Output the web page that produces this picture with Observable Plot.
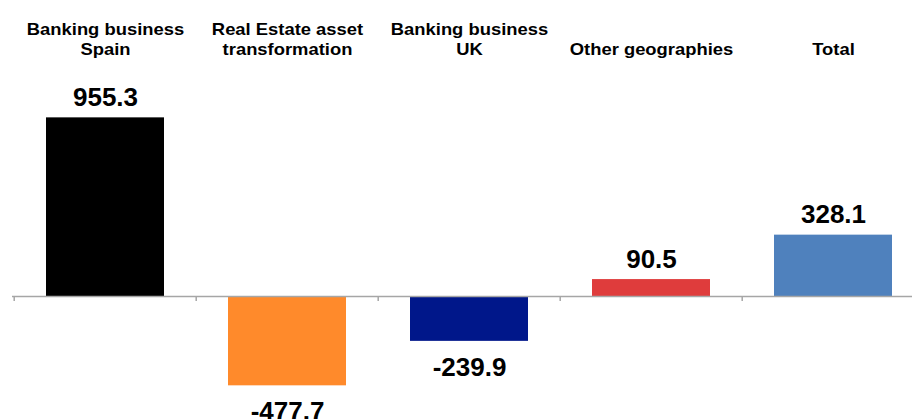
<!DOCTYPE html>
<html>
<head>
<meta charset="utf-8">
<script src="https://cdn.jsdelivr.net/npm/d3@7"></script>
<script src="https://cdn.jsdelivr.net/npm/@observablehq/plot@0.6"></script>
<style>
  html, body { margin: 0; padding: 0; background: #ffffff; }
  #chart svg { display: block; }
</style>
</head>
<body>
<div id="chart"></div>
<script>
const categories = ["Banking business Spain", "Real Estate asset transformation", "Banking business UK", "Other geographies", "Total"];
const categoryLabels = ["Banking business\nSpain", "Real Estate asset\ntransformation", "Banking business\nUK", "Other geographies", "Total"];
const values = [955.3, -477.7, -239.9, 90.5, 328.1];
const colors = ["#000000", "#FF8A2B", "#00178A", "#DF3C3C", "#4F81BD"];

const data = categories.map((c, i) => ({category: c, label: categoryLabels[i], value: values[i], color: colors[i]}));

const xRange = [12, 925];
const step = (xRange[1] - xRange[0]) / categories.length;
const font = "'Liberation Sans', Arial, sans-serif";

const chart = Plot.plot({
  width: 912,
  height: 419,
  marginTop: 54,
  marginLeft: 12,
  marginRight: 0,
  marginBottom: 0,
  style: {fontFamily: font, background: "#ffffff", overflow: "hidden"},
  x: {domain: categories, range: xRange, paddingInner: 0.354, paddingOuter: 0.177, axis: null},
  y: {domain: [-600, 1000], range: [408.2, 109], axis: null},
  marks: [
    Plot.barY(data, {x: "category", y: "value", fill: d => d.color}),
    Plot.ruleY([0], {stroke: "#a6a6a6", strokeWidth: 1.5}),
    Plot.ruleX(categories, {x: d => d, y1: 0, y2: 0, insetBottom: -5, dx: -step / 2, stroke: "#a6a6a6", strokeWidth: 1.5}),
    Plot.text(data.filter(d => d.value >= 0), {x: "category", y: "value", text: d => d.value.toFixed(1), lineAnchor: "bottom", dy: -12, fontSize: 26, fontWeight: "bold", fill: "#000000"}),
    Plot.text(data.filter(d => d.value < 0), {x: "category", y: "value", text: d => d.value.toFixed(1), lineAnchor: "top", dy: 16, fontSize: 26, fontWeight: "bold", fill: "#000000"}),
    Plot.text(data, {x: "category", text: "label", frameAnchor: "top", lineAnchor: "bottom", lineHeight: 1.25, fontSize: 16, fontWeight: "bold", fill: "#000000"})
  ]
});
document.getElementById("chart").appendChild(chart);

// slight horizontal stretch of the category labels, as in the reference
const textGroups = chart.querySelectorAll('g[aria-label="text"]');
const labelGroup = textGroups[textGroups.length - 1];
labelGroup.querySelectorAll("text").forEach(t => {
  const tr = t.getAttribute("transform") || "";
  if (tr.includes("translate")) {
    t.setAttribute("transform", tr + " scale(1.15,1)");
  }
});
</script>
</body>
</html>
